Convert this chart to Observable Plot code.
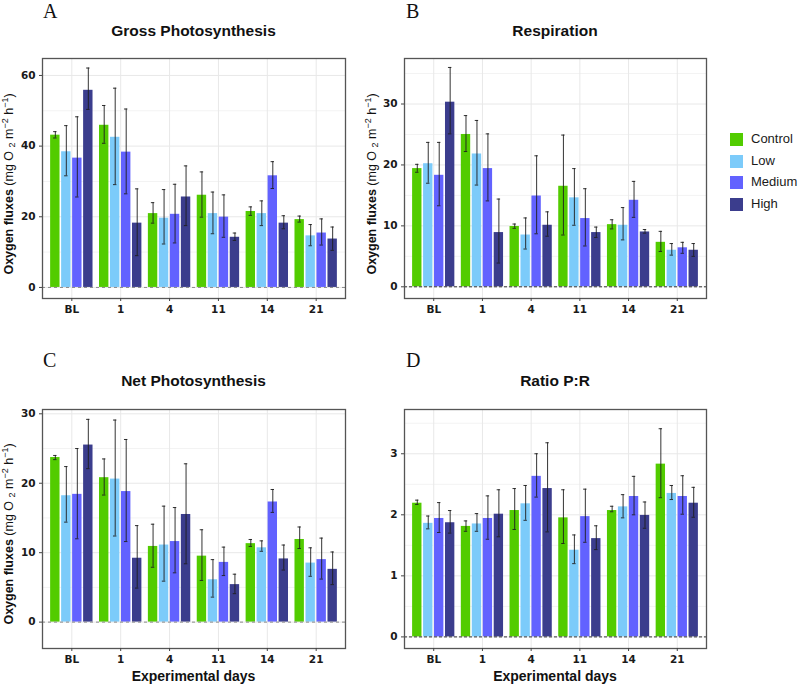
<!DOCTYPE html>
<html><head><meta charset="utf-8">
<script src="https://cdn.jsdelivr.net/npm/d3@7"></script>
<script src="https://cdn.jsdelivr.net/npm/@observablehq/plot@0.6"></script>
<style>
body{margin:0;background:#fff;}
#root{position:relative;width:799px;height:685px;overflow:hidden;background:#fff;}
.panel{position:absolute;}
#overlay{position:absolute;left:0;top:0;pointer-events:none;}
.legend-row{position:absolute;font-family:"Liberation Sans",Arial,sans-serif;font-size:13px;color:#1a1a1a;}
.legend-sw{position:absolute;width:13px;height:13px;}
</style></head><body><div id="root"></div>
<script>
const days = ["BL","1","4","11","14","21"];
const treatments = ["Control","Low","Medium","High"];
const colors = ["#52CC00","#7CCBFA","#6262FF","#3B3D8D"];

// rows = days (BL,1,4,11,14,21), columns = treatments (Control, Low, Medium, High)
const grossMean = [[43.1,38.4,36.6,55.8],[45.9,42.5,38.3,18.2],[20.9,19.6,20.7,25.6],[26.1,20.9,19.9,14.2],[21.5,20.9,31.6,18.2],[19.2,14.6,15.4,13.7]];
const grossLo   = [[42.3,31.6,25.6,50.4],[40.8,29.1,26.5,9.0],[18.2,12.3,12.6,17.5],[19.9,15.2,14.2,13.3],[20.4,17.5,28.0,16.6],[18.5,11.8,12.0,10.5]];
const grossHi   = [[44.1,45.8,48.3,62.1],[51.5,56.4,50.5,27.9],[24.0,27.7,29.2,34.4],[32.7,27.0,26.2,15.4],[22.8,24.5,35.6,20.3],[20.2,17.8,19.4,17.1]];

const respMean = [[19.4,20.2,18.3,30.3],[25.0,21.8,19.4,8.9],[9.9,8.5,14.9,10.1],[16.5,14.6,11.2,8.9],[10.2,10.1,14.2,9.0],[7.3,6.0,6.4,6.0]];
const respLo   = [[18.8,17.0,13.3,25.1],[22.2,16.7,14.1,3.9],[9.6,6.2,8.7,8.3],[8.5,10.1,6.7,8.1],[9.5,7.7,11.4,8.8],[5.8,5.2,5.5,5.0]];
const respHi   = [[20.1,23.7,23.7,36.0],[28.1,27.3,25.1,14.4],[10.3,11.3,21.5,12.3],[24.9,19.4,16.1,9.8],[11.0,13.0,17.3,9.4],[9.1,7.1,7.3,7.1]];

const netMean = [[23.7,18.2,18.4,25.5],[20.8,20.6,18.8,9.2],[10.9,11.1,11.6,15.5],[9.5,6.1,8.6,5.4],[11.3,10.7,17.3,9.1],[11.9,8.5,9.0,7.6]];
const netLo   = [[23.4,14.4,12.0,22.1],[18.3,12.4,11.6,4.9],[7.9,5.9,7.1,8.4],[6.0,3.6,6.7,4.1],[10.9,10.2,15.8,7.5],[10.6,6.6,6.2,5.4]];
const netHi   = [[24.0,22.4,25.0,29.2],[23.5,29.1,26.3,13.9],[14.1,16.7,16.5,22.8],[13.3,9.0,10.8,6.9],[11.9,11.7,19.1,11.1],[13.7,10.7,12.1,10.1]];

const ratioMean = [[2.19,1.86,1.94,1.87],[1.81,1.85,1.94,2.01],[2.07,2.18,2.63,2.43],[1.95,1.42,1.97,1.61],[2.07,2.13,2.30,1.99],[2.83,2.35,2.30,2.19]];
const ratioLo   = [[2.17,1.77,1.71,1.70],[1.73,1.73,1.60,1.64],[1.76,1.91,2.29,1.72],[1.53,1.20,1.55,1.43],[2.05,1.95,2.00,1.78],[2.28,2.25,2.01,1.96]];
const ratioHi   = [[2.24,1.98,2.20,2.07],[1.90,2.02,2.31,2.41],[2.43,2.48,3.00,3.18],[2.41,1.67,2.42,1.82],[2.14,2.33,2.63,2.21],[3.41,2.48,2.64,2.45]];

const panelTitles = ["Gross Photosynthesis","Respiration","Net Photosynthesis","Ratio P:R"];
const panelLetters = ["A","B","C","D"];
const xAxisTitle = "Experimental days";

const root = document.getElementById("root");
const slot = 0.225;

function makePanel(cfg) {
  const rows = [];
  days.forEach((day, di) => treatments.forEach((t, ti) => rows.push({
    di, ti, treatment: t, value: cfg.mean[di][ti], lo: cfg.lo[di][ti], hi: cfg.hi[di][ti]
  })));
  const cx = d => d.di + (d.ti - 1.5) * slot;
  const plot = Plot.plot({
    width: cfg.width, height: cfg.height,
    marginLeft: 42, marginRight: 5, marginTop: 18, marginBottom: 22,
    style: {fontFamily: "'DejaVu Sans', sans-serif", fontSize: "10.5px", fontWeight: "bold", color: "#1a1a1a", background: "transparent", overflow: "visible"},
    x: {type: "linear", domain: [-0.6, 5.6], axis: null},
    y: {domain: cfg.yDomain, axis: null},
    color: {domain: treatments, range: colors},
    marks: [
      Plot.gridY({ticks: cfg.yMinor, stroke: "#f3f3f3", strokeOpacity: 1}),
      Plot.gridY({ticks: cfg.yTicks, stroke: "#e8e8e8", strokeOpacity: 1}),
      Plot.gridX({ticks: days.map((d, i) => i), stroke: "#e8e8e8", strokeOpacity: 1}),
      Plot.rect(rows, {x1: d => d.di + (d.ti - 2) * slot, x2: d => d.di + (d.ti - 1) * slot, y1: 0, y2: "value", fill: "treatment", insetLeft: 0.8, insetRight: 0.8}),
      Plot.ruleY([0], {stroke: cfg.zeroStroke, strokeDasharray: cfg.zeroDash, strokeWidth: 1}),
      Plot.ruleX(rows, {x: cx, y1: "lo", y2: "hi", stroke: "#1e1e1e", strokeWidth: 1, strokeOpacity: 0.9}),
      Plot.ruleY(rows, {y: "hi", x1: d => cx(d) - 0.035, x2: d => cx(d) + 0.035, stroke: "#1e1e1e", strokeWidth: 1, strokeOpacity: 0.9}),
      Plot.ruleY(rows, {y: "lo", x1: d => cx(d) - 0.035, x2: d => cx(d) + 0.035, stroke: "#1e1e1e", strokeWidth: 1, strokeOpacity: 0.9}),
      Plot.frame({stroke: "#555", strokeWidth: 1.3}),
      Plot.axisX({ticks: days.map((d, i) => i), tickFormat: i => days[i], tickSize: 3, tickPadding: 4.5, stroke: "#444", label: null}),
      Plot.axisY({ticks: cfg.yTicks, tickFormat: d => String(d), tickSize: 3, tickPadding: 4, stroke: "#444", label: null})
    ]
  });
  plot.classList.add("panel");
  plot.style.position = "absolute";
  plot.style.left = cfg.left + "px";
  plot.style.top = cfg.top + "px";
  root.appendChild(plot);
}

makePanel({mean: grossMean, lo: grossLo, hi: grossHi, yDomain: [-3.13, 64.8], yTicks: [0,20,40,60], yMinor: [10,30,50],
  zeroStroke: "#8a8a8a", zeroDash: "3,3", left: 0, top: 40, width: 350, height: 280});
makePanel({mean: respMean, lo: respLo, hi: respHi, yDomain: [-1.92, 37.47], yTicks: [0,10,20,30], yMinor: [5,15,25,35],
  zeroStroke: "#333", zeroDash: "3,2", left: 362, top: 40, width: 349, height: 280});
makePanel({mean: netMean, lo: netLo, hi: netHi, yDomain: [-3.8, 30.62], yTicks: [0,10,20,30], yMinor: [5,15,25],
  zeroStroke: "#8a8a8a", zeroDash: "3,3", left: 0, top: 391, width: 350, height: 279});
makePanel({mean: ratioMean, lo: ratioLo, hi: ratioHi, yDomain: [-0.19, 3.725], yTicks: [0,1,2,3], yMinor: [0.5,1.5,2.5,3.5],
  zeroStroke: "#333", zeroDash: "3,2", left: 362, top: 391, width: 349, height: 279});

// Text overlay
const svg = d3.select(root).append("svg").attr("id", "overlay").attr("width", 799).attr("height", 685);
const letterPos = [[43,18],[406,18],[43,367],[406,367]];
panelLetters.forEach((l, i) => svg.append("text").attr("x", letterPos[i][0]).attr("y", letterPos[i][1])
  .attr("font-family", "'Liberation Serif', 'Times New Roman', serif").attr("font-size", 20).attr("fill", "#111").text(l));
const titlePos = [[193.5,35.5],[555,35.5],[193.5,386],[555,386]];
panelTitles.forEach((t, i) => svg.append("text").attr("x", titlePos[i][0]).attr("y", titlePos[i][1]).attr("text-anchor", "middle")
  .attr("font-family", "'Liberation Sans', Arial, sans-serif").attr("font-weight", "bold").attr("font-size", 15.5).attr("fill", "#111").text(t));
[[193.5,681],[555,681]].forEach(p => svg.append("text").attr("x", p[0]).attr("y", p[1]).attr("text-anchor", "middle")
  .attr("font-family", "'Liberation Sans', Arial, sans-serif").attr("font-weight", "bold").attr("font-size", 14).attr("fill", "#111").text(xAxisTitle));

function yLabel(x, y) {
  const t = svg.append("text").attr("transform", `translate(${x},${y}) rotate(-90)`).attr("text-anchor", "middle")
    .attr("font-family", "'Liberation Sans', Arial, sans-serif").attr("font-size", 12.5).attr("fill", "#111");
  t.append("tspan").attr("font-weight", "bold").text("Oxygen fluxes ");
  t.append("tspan").text("(mg O ");
  t.append("tspan").attr("font-size", 9).attr("dy", 2.5).text("2");
  t.append("tspan").attr("dy", -2.5).text(" m");
  t.append("tspan").attr("font-size", 9).attr("dy", -5).text("\u22122");
  t.append("tspan").attr("dy", 5).text(" h");
  t.append("tspan").attr("font-size", 9).attr("dy", -5).text("\u22121");
  t.append("tspan").attr("dy", 5).text(")");
}
yLabel(12.5, 184);
yLabel(375.5, 184);
yLabel(12.5, 534);

// Legend
treatments.forEach((t, i) => {
  const top = 133 + i * 21.5;
  const sw = document.createElement("div");
  sw.className = "legend-sw";
  sw.style.left = "730px"; sw.style.top = top + "px"; sw.style.background = colors[i];
  root.appendChild(sw);
  const lab = document.createElement("div");
  lab.className = "legend-row";
  lab.style.left = "751px"; lab.style.top = (top - 2) + "px";
  lab.textContent = t;
  root.appendChild(lab);
});
</script></body></html>
